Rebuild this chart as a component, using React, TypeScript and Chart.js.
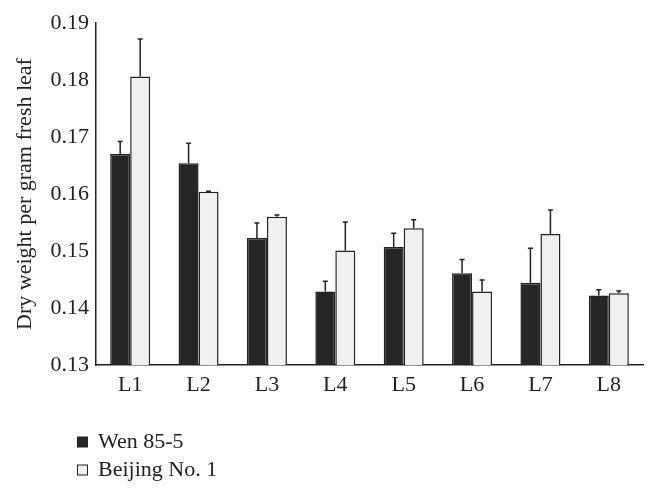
import React, { useEffect, useRef } from "react";
import { Chart, registerables } from "chart.js";

Chart.register(...registerables);

const categories = ["L1", "L2", "L3", "L4", "L5", "L6", "L7", "L8"];
const wenValues = [0.167, 0.1654, 0.1523, 0.1429, 0.1507, 0.1461, 0.1444, 0.1422];
const wenErrors = [0.0022, 0.0035, 0.0026, 0.0018, 0.0024, 0.0024, 0.0061, 0.001];
const beijingValues = [0.1806, 0.1604, 0.156, 0.1501, 0.154, 0.1429, 0.153, 0.1426];
const beijingErrors = [0.0066, 0.0001, 0.0003, 0.005, 0.0015, 0.002, 0.0042, 0.0004];
const yTicks = [0.13, 0.14, 0.15, 0.16, 0.17, 0.18, 0.19];

const FONT = "'Liberation Serif', 'Times New Roman', serif";
const INK = "#222222";
const FS = 22;

const errorBarPlugin = {
  id: "errorBars",
  afterDatasetsDraw(chart: any) {
    const ctx = chart.ctx;
    const yScale = chart.scales.y;
    chart.data.datasets.forEach((ds: any, di: number) => {
      const meta = chart.getDatasetMeta(di);
      const errs: number[] = ds.errors || [];
      meta.data.forEach((bar: any, i: number) => {
        const v = ds.data[i];
        const e = errs[i] || 0;
        const yTop = yScale.getPixelForValue(v + e);
        const yBase = bar.y;
        ctx.save();
        ctx.strokeStyle = INK;
        ctx.lineWidth = 1.5;
        ctx.beginPath();
        ctx.moveTo(bar.x, yBase);
        ctx.lineTo(bar.x, yTop);
        ctx.moveTo(bar.x - 2.5, yTop);
        ctx.lineTo(bar.x + 2.5, yTop);
        ctx.stroke();
        ctx.restore();
      });
    });
  },
};

const legendPlugin = {
  id: "stackLegend",
  afterDraw(chart: any) {
    const ctx = chart.ctx;
    const base = chart.chartArea.bottom;
    chart.data.datasets.forEach((ds: any, i: number) => {
      const cy = base + 77 + i * 28;
      ctx.save();
      ctx.fillStyle = ds.backgroundColor;
      ctx.strokeStyle = INK;
      ctx.lineWidth = 1;
      ctx.fillRect(77.5, cy - 5, 10, 10);
      ctx.strokeRect(77.5, cy - 5, 10, 10);
      ctx.fillStyle = INK;
      ctx.font = `${FS}px ${FONT}`;
      ctx.textAlign = "left";
      ctx.textBaseline = "middle";
      ctx.fillText(ds.label, 98, cy);
      ctx.restore();
    });
  },
};

export default function App() {
  const canvasRef = useRef<HTMLCanvasElement | null>(null);

  useEffect(() => {
    document.body.style.margin = "0";
    const canvas = canvasRef.current;
    if (!canvas) return;
    const chart = new Chart(canvas, {
      type: "bar",
      data: {
        labels: categories,
        datasets: [
          {
            label: "Wen 85-5",
            data: wenValues,
            errors: wenErrors,
            backgroundColor: "#262626",
            borderColor: INK,
            borderWidth: 1.5,
          } as any,
          {
            label: "Beijing No. 1",
            data: beijingValues,
            errors: beijingErrors,
            backgroundColor: "#f0f0f0",
            borderColor: INK,
            borderWidth: 1.5,
          } as any,
        ],
      },
      options: {
        animation: false,
        responsive: false,
        maintainAspectRatio: false,
        layout: { padding: { top: 23, right: 15, bottom: 90, left: 0 } },
        datasets: {
          bar: { barPercentage: 1, categoryPercentage: 0.585 },
        },
        plugins: {
          legend: { display: false },
          tooltip: { enabled: false },
        },
        scales: {
          x: {
            grid: { display: false, drawTicks: false },
            border: { display: true, color: INK, width: 1.5 },
            ticks: { color: INK, font: { family: FONT, size: FS }, padding: 7 },
            afterFit: (s: any) => {
              s.height = 40;
            },
          },
          y: {
            min: 0.13,
            max: 0.19,
            grid: { display: false, drawTicks: false },
            border: { display: true, color: INK, width: 1.5 },
            afterBuildTicks: (s: any) => {
              s.ticks = yTicks.map((v) => ({ value: v }));
            },
            ticks: {
              color: INK,
              font: { family: FONT, size: FS },
              padding: 7,
              callback: (v: any) => Number(v).toFixed(2),
            },
            title: {
              display: true,
              text: "Dry weight per gram fresh leaf",
              color: INK,
              font: { family: FONT, size: FS },
              padding: { top: 12, bottom: 0 },
            },
            afterFit: (s: any) => {
              s.width = 96;
            },
          },
        },
      },
      plugins: [errorBarPlugin, legendPlugin],
    });
    return () => chart.destroy();
  }, []);

  return (
    <div style={{ width: 658, height: 495, background: "#fff" }}>
      <canvas ref={canvasRef} width={658} height={495} style={{ display: "block" }} />
    </div>
  );
}
